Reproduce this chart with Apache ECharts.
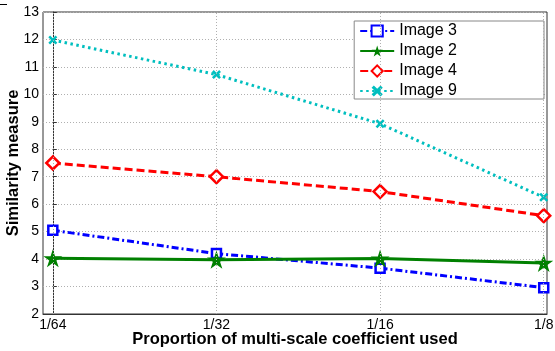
<!DOCTYPE html>
<html><head><meta charset="utf-8">
<script src="https://cdn.jsdelivr.net/npm/echarts@6/dist/echarts.min.js"></script>
<style>html,body{margin:0;padding:0;background:#fff}#c{width:555px;height:351px}</style>
</head><body><div id="c"></div>
<script>
var categories = ['1/64', '1/32', '1/16', '1/8'];
var image3 = [5.05, 4.2, 3.67, 2.96];
var image2 = [4.03, 3.98, 4.02, 3.86];
var image4 = [7.5, 7.0, 6.46, 5.58];
var image9 = [11.98, 10.72, 8.93, 6.25];
var yTicks = [2, 3, 4, 5, 6, 7, 8, 9, 10, 11, 12, 13];

function pts(arr){ return arr.map(function(v,i){ return [i, v]; }); }
var starPath = 'path://M100,0 L122.3,69.3 L195.1,69.1 L136.1,111.7 L158.8,180.9 L100,138 L41.2,180.9 L63.9,111.7 L4.9,69.1 L77.7,69.3 Z';
var xPath = 'path://M0,2 L2,0 L5,3 L8,0 L10,2 L7,5 L10,8 L8,10 L5,7 L2,10 L0,8 L3,5 Z';
var font = "'Liberation Sans', Arial, sans-serif";

var chart = echarts.init(document.getElementById('c'), null, {renderer:'canvas'});
chart.setOption({
  animation: false,
  backgroundColor: '#fff',
  graphic: [{type: 'line', shape: {x1: 0, y1: 4.5, x2: 7, y2: 4.5}, style: {stroke: '#000', lineWidth: 1}}],
  grid: {left: 43, right: 8, top: 12, bottom: 37, show: true, borderColor: '#333', borderWidth: 1, outerBoundsMode: 'none', containLabel: false},
  legend: {
    right: 11, top: 21, orient: 'vertical',
    backgroundColor: '#fff', borderColor: '#888', borderWidth: 1,
    padding: [2, 87, 0, 5], itemGap: 4, itemWidth: 34, itemHeight: 14,
    textStyle: {fontFamily: font, fontSize: 16, lineHeight: 16, color: '#000'},
    data: ['Image 3', 'Image 2', 'Image 4', 'Image 9']
  },
  xAxis: {
    type: 'value', min: -0.06, max: 3.02,
    axisLine: {show: true, lineStyle: {color: '#333'}},
    axisTick: {show: false},
    splitLine: {show: false},
    axisLabel: {
      fontFamily: font, fontSize: 14, color: '#000', margin: 4,
      customValues: [0, 1, 2, 3],
      formatter: function(v){ return categories[Math.round(v)] || ''; }
    },
    name: 'Proportion of multi-scale coefficient used', nameLocation: 'middle', nameGap: 17, nameMoveOverlap: false,
    nameTextStyle: {fontFamily: font, fontSize: 16.5, fontWeight: 'bold', color: '#000'}
  },
  yAxis: {
    type: 'value', min: yTicks[0], max: yTicks[yTicks.length-1], interval: 1,
    axisLine: {show: true, lineStyle: {color: '#333'}},
    axisTick: {show: true, inside: true, length: 4, lineStyle: {color: '#333'}},
    splitLine: {show: true, lineStyle: {color: '#b0b0b0', type: [1, 2], width: 1}},
    axisLabel: {fontFamily: font, fontSize: 14, color: '#000', margin: 4},
    name: 'Similarity measure', nameLocation: 'middle', nameGap: 21, nameMoveOverlap: false,
    nameTextStyle: {fontFamily: font, fontSize: 16.5, fontWeight: 'bold', color: '#000'}
  },
  series: [
    {type: 'line', name: '_grid', data: [], markLine: {
      silent: true, symbol: 'none', label: {show: false},
      lineStyle: {color: '#b0b0b0', type: [1, 2], width: 1},
      data: [{xAxis: 0}, {xAxis: 1}, {xAxis: 2}, {xAxis: 3}]
    }},
    {type: 'line', name: 'Image 3', data: pts(image3), color: '#0000ff',
      lineStyle: {width: 3, type: [7, 3, 2, 3], color: '#0000ff'},
      symbol: 'rect', symbolSize: 9, itemStyle: {color: '#fff', borderColor: '#0000ff', borderWidth: 2.5}},
    {type: 'line', name: 'Image 2', data: pts(image2), color: '#008000',
      lineStyle: {width: 3, type: 'solid', color: '#008000'}, symbolKeepAspect: true,
      symbol: starPath, symbolSize: 19, itemStyle: {color: '#008000', borderColor: '#008000', borderWidth: 0}},
    {type: 'line', name: 'Image 4', data: pts(image4), color: '#ff0000',
      lineStyle: {width: 3, type: [8, 4], color: '#ff0000'},
      symbol: 'diamond', symbolSize: 13, itemStyle: {color: '#fff', borderColor: '#ff0000', borderWidth: 2.5}},
    {type: 'line', name: 'Image 9', data: pts(image9), color: '#00bfbf',
      lineStyle: {width: 3, type: [2.5, 3.5], color: '#00bfbf'},
      symbol: xPath, symbolSize: 9, itemStyle: {color: '#00bfbf', borderColor: '#00bfbf', borderWidth: 0}}
  ]
});
</script></body></html>
